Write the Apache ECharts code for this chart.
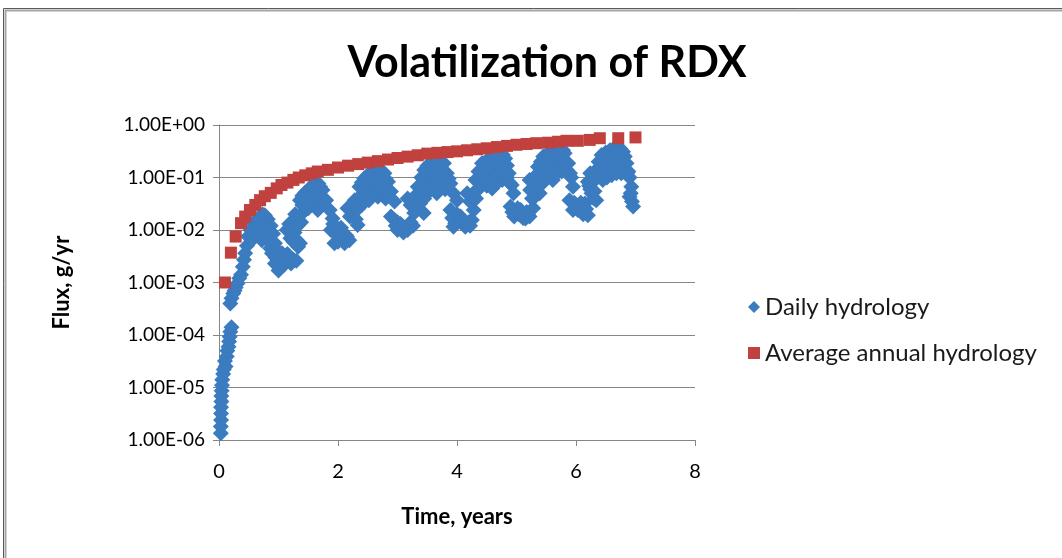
<!DOCTYPE html>
<html>
<head>
<meta charset="utf-8">
<script src="https://cdn.jsdelivr.net/npm/echarts@6/dist/echarts.min.js"></script>
<style>
  html, body { margin: 0; padding: 0; background: #fff; }
  #chart { width: 1062px; height: 558px; }
</style>
</head>
<body>
<div id="chart"></div>
<script>
// Daily hydrology: time (years) and flux (g/yr)
const dailyTime = [
  0.03, 0.03, 0.03, 0.035, 0.035, 0.035, 0.04, 0.04, 0.045, 0.05, 0.055, 0.07, 0.08, 0.11, 0.10, 0.13, 0.14, 0.16, 0.17, 0.18, 0.19, 0.21,
  0.19, 0.21, 0.24, 0.26, 0.28, 0.31, 0.34, 0.37, 0.40, 0.42, 0.44, 0.47, 0.49, 0.53, 0.55, 0.58, 0.62, 0.63, 0.68, 0.69, 0.72, 0.73, 0.77, 0.78, 0.82, 0.85, 0.87, 0.91, 0.94,
  0.86, 0.89, 0.93, 0.94, 0.97, 1.00, 1.00, 1.04, 1.08, 1.12, 1.17, 1.21, 1.25, 1.30,
  1.14, 1.18, 1.20, 1.25, 1.28, 1.30, 1.33, 1.36, 1.36, 1.38, 1.40, 1.42, 1.45, 1.50, 1.50, 1.55, 1.58, 1.61, 1.66, 1.67, 1.70, 1.72, 1.74, 1.80, 1.86, 1.91,
  1.88, 1.92, 1.94, 1.98, 2.02, 2.05, 2.08, 2.11, 2.15, 2.19,
  2.16, 2.20, 2.24, 2.28, 2.30, 2.33, 2.36, 2.40, 2.40, 2.44, 2.45, 2.50, 2.50, 2.52, 2.55, 2.58, 2.62, 2.62, 2.67, 2.70, 2.72, 2.74, 2.75, 2.78, 2.80, 2.84, 2.89, 2.95,
  2.89, 2.95, 3.00, 3.00, 3.05, 3.10, 3.17, 3.22, 3.26,
  3.17, 3.22, 3.28, 3.30, 3.34, 3.38, 3.40, 3.44, 3.45, 3.50, 3.50, 3.50, 3.55, 3.55, 3.62, 3.62, 3.66, 3.69, 3.72, 3.72, 3.74, 3.78, 3.80, 3.83, 3.86, 3.89, 3.94, 4.00,
  3.89, 3.94, 3.97, 4.00, 4.02, 4.06, 4.10, 4.14, 4.20, 4.25,
  4.17, 4.22, 4.28, 4.31, 4.36, 4.36, 4.42, 4.42, 4.50, 4.50, 4.50, 4.56, 4.59, 4.62, 4.65, 4.68, 4.72, 4.73, 4.76, 4.77, 4.81, 4.84, 4.87, 4.92, 4.95,
  4.90, 4.96, 5.00, 5.04, 5.07, 5.11, 5.15, 5.19, 5.22,
  5.22, 5.23, 5.28, 5.29, 5.31, 5.36, 5.39, 5.41, 5.45, 5.45, 5.50, 5.52, 5.52, 5.59, 5.60, 5.61, 5.66, 5.68, 5.70, 5.73, 5.76, 5.78, 5.81, 5.87, 5.92, 5.95,
  5.89, 5.95, 6.00, 6.06, 6.10, 6.12, 6.15, 6.20,
  6.20, 6.24, 6.24, 6.26, 6.28, 6.30, 6.34, 6.34, 6.38, 6.43, 6.45, 6.50, 6.50, 6.52, 6.57, 6.60, 6.62, 6.64, 6.68, 6.71, 6.74, 6.75, 6.76, 6.79, 6.82, 6.85, 6.88, 6.90, 6.90, 6.93, 6.94, 6.96,
  // points inside the thick parts of the band
  0.60, 0.66, 0.70, 0.75, 0.80, 0.84,
  0.95, 1.02, 1.06, 1.10, 1.15,
  1.22, 1.25, 1.27, 1.32, 1.40, 1.45, 1.47, 1.50, 1.55, 1.58, 1.60, 1.65, 1.70, 1.75,
  1.95, 2.00, 2.08, 2.13,
  2.25, 2.33, 2.38, 2.44, 2.48, 2.56, 2.56, 2.66, 2.66, 2.70, 2.76, 2.80,
  2.97, 3.03, 3.08, 3.13, 3.20,
  3.32, 3.36, 3.42, 3.45, 3.46, 3.58, 3.58, 3.66, 3.68, 3.76, 3.78, 3.84,
  3.92, 4.00, 4.08, 4.17, 4.22,
  4.25, 4.32, 4.34, 4.40, 4.46, 4.46, 4.55, 4.55, 4.64, 4.66, 4.70, 4.74, 4.80, 4.84, 4.88,
  4.93, 5.02, 5.09, 5.17,
  5.26, 5.33, 5.38, 5.42, 5.48, 5.50, 5.56, 5.56, 5.64, 5.64, 5.72, 5.74, 5.80, 5.84, 5.90,
  5.97, 6.03, 6.08, 6.17,
  6.22, 6.27, 6.31, 6.36, 6.40, 6.46, 6.48, 6.55, 6.55, 6.63, 6.66, 6.72, 6.72, 6.80, 6.86, 6.92
];
const dailyFlux = [
  9.8e-7, 1.35e-6, 1.8e-6, 2.4e-6, 3.2e-6, 4.2e-6, 5.4e-6, 6.9e-6, 8.7e-6, 1.1e-5, 1.4e-5, 1.8e-5, 2.2e-5, 2.5e-5, 3.2e-5, 3.9e-5, 5e-5, 6e-5, 7.5e-5, 9.3e-5, 1.15e-4, 1.4e-4,
  4e-4, 5e-4, 6.2e-4, 7e-4, 8e-4, 9.6e-4, 1.2e-3, 1.4e-3, 2e-3, 2.7e-3, 3.6e-3, 5e-3, 7.5e-3, 1e-2, 6.4e-3, 1.35e-2, 8e-3, 1.6e-2, 9e-3, 1.8e-2, 6.4e-3, 2e-2, 1.9e-2, 8e-3, 1.6e-2, 6e-3, 1.2e-2, 8.5e-3, 5.6e-3,
  4.5e-3, 3.6e-3, 3.8e-3, 2.3e-3, 2.2e-3, 1.7e-3, 3.9e-3, 2.4e-3, 2.7e-3, 3.1e-3, 2.9e-3, 2.3e-3, 2.7e-3, 2.6e-3,
  1e-2, 1.3e-2, 7e-3, 1.5e-2, 2e-2, 6.5e-3, 4.8e-3, 3.7e-2, 5.6e-3, 1.4e-2, 4.5e-2, 2.2e-2, 5.2e-2, 5.8e-2, 2.6e-2, 6.7e-2, 3.2e-2, 7.7e-2, 2.4e-2, 7.7e-2, 6.7e-2, 3e-2, 5.8e-2, 3.7e-2, 2.4e-2, 1.65e-2,
  1e-2, 1.3e-2, 5.6e-3, 8e-3, 7.5e-3, 1.1e-2, 6.5e-3, 5.6e-3, 7.5e-3, 6.4e-3,
  2.6e-2, 1.8e-2, 2.2e-2, 3.7e-2, 1.6e-2, 1.25e-2, 6.7e-2, 8e-2, 3e-2, 9.6e-2, 4e-2, 0.11, 7e-2, 3.7e-2, 0.124, 4.5e-2, 0.132, 8e-2, 4.3e-2, 0.139, 8e-2, 0.13, 5e-2, 0.12, 4e-2, 8.3e-2, 5.4e-2, 3.5e-2,
  1.8e-2, 1.55e-2, 1e-2, 1.4e-2, 1.3e-2, 9e-3, 1e-2, 1.4e-2, 1.2e-2,
  4e-2, 3e-2, 2.1e-2, 4.5e-2, 6.7e-2, 3.2e-2, 0.1, 2.1e-2, 0.139, 0.165, 9e-2, 5e-2, 0.186, 5.8e-2, 0.205, 0.1, 5e-2, 0.215, 0.11, 6.5e-2, 0.2, 0.186, 6e-2, 0.12, 0.095, 7.7e-2, 5e-2, 3.7e-2,
  2.4e-2, 1.15e-2, 1.35e-2, 2e-2, 1.6e-2, 1.8e-2, 1.3e-2, 1.15e-2, 1.4e-2, 1.55e-2,
  5e-2, 3.5e-2, 2.4e-2, 9e-2, 0.13, 6e-2, 0.186, 7.7e-2, 0.21, 0.12, 7e-2, 0.23, 6.2e-2, 0.13, 0.26, 8e-2, 0.15, 0.29, 9e-2, 0.27, 0.23, 0.17, 0.12, 7.2e-2, 5e-2,
  2.8e-2, 1.8e-2, 2.2e-2, 2e-2, 2.4e-2, 1.7e-2, 1.65e-2, 2e-2, 1.8e-2,
  9e-2, 5.8e-2, 2.6e-2, 7.7e-2, 4.3e-2, 0.16, 5e-2, 0.2, 0.25, 8e-2, 0.15, 0.28, 0.1, 0.31, 0.18, 9e-2, 0.34, 0.12, 0.2, 0.36, 0.13, 0.33, 0.29, 0.186, 0.10, 6.7e-2,
  3.7e-2, 2.4e-2, 3e-2, 2.8e-2, 2.3e-2, 2e-2, 3.2e-2, 1.9e-2,
  8.3e-2, 6e-2, 0.12, 5e-2, 0.1, 4e-2, 3.7e-2, 0.139, 0.2, 0.268, 9e-2, 0.3, 0.18, 0.1, 0.33, 0.11, 0.2, 0.36, 0.12, 0.386, 0.22, 0.35, 0.12, 0.31, 0.25, 0.186, 0.13, 0.10, 4.3e-2, 6.7e-2, 3.5e-2, 2.8e-2,
  // points inside the thick parts of the band
  1.1e-2, 1.3e-2, 1.2e-2, 1.3e-2, 1.1e-2, 9e-3,
  3e-3, 2.8e-3, 3.6e-3, 2.2e-3, 3.5e-3,
  1e-2, 6e-3, 9e-3, 1.2e-2, 3e-2, 3.5e-2, 4.5e-2, 4e-2, 4.5e-2, 6e-2, 5e-2, 4.5e-2, 4e-2, 4e-2,
  9e-3, 6e-3, 9e-3, 8e-3,
  3e-2, 2.5e-2, 4.5e-2, 6e-2, 5e-2, 6e-2, 9.5e-2, 6e-2, 0.105, 6.5e-2, 7e-2, 9.5e-2,
  1.2e-2, 1.1e-2, 1.2e-2, 1.1e-2, 1.2e-2,
  3e-2, 4.5e-2, 6e-2, 4e-2, 7e-2, 8e-2, 0.13, 0.15, 8e-2, 8e-2, 0.13, 7e-2,
  1.7e-2, 1.4e-2, 1.5e-2, 1.3e-2, 1.2e-2,
  4.5e-2, 4e-2, 6e-2, 0.11, 0.1, 0.16, 9e-2, 0.16, 0.1, 0.19, 0.11, 0.2, 0.13, 0.1, 8e-2,
  2.2e-2, 2.6e-2, 2e-2, 2.2e-2,
  4e-2, 0.11, 8e-2, 0.13, 0.12, 0.22, 0.13, 0.23, 0.15, 0.26, 0.15, 0.28, 0.18, 0.14, 0.12,
  3.3e-2, 2.4e-2, 3.3e-2, 2.5e-2,
  7e-2, 8e-2, 5.5e-2, 0.1, 0.14, 0.2, 0.13, 0.25, 0.15, 0.28, 0.16, 0.28, 0.16, 0.18, 0.12, 5e-2
];

// Average annual hydrology
const annualTime = [
  0.10, 0.20, 0.28, 0.37, 0.44, 0.52, 0.61, 0.69, 0.77, 0.87, 0.97, 1.05, 1.15, 1.25, 1.34, 1.45, 1.56, 1.66,
  1.83, 2.00, 2.17, 2.34, 2.50, 2.67, 2.84, 3.00, 3.17, 3.34, 3.50, 3.67, 3.84, 4.00, 4.17, 4.34, 4.50, 4.67, 4.84, 5.00, 5.17, 5.33,
  5.53, 5.70, 5.84, 6.03, 6.23, 6.40, 6.71, 7.00
];
const annualFlux = [
  0.001, 0.0037, 0.0075, 0.0135, 0.018, 0.024, 0.030, 0.037, 0.044, 0.051, 0.062, 0.072, 0.080, 0.090, 0.100, 0.110, 0.120, 0.130,
  0.140, 0.155, 0.168, 0.180, 0.192, 0.205, 0.220, 0.235, 0.250, 0.265, 0.285, 0.295, 0.305, 0.315, 0.330, 0.345, 0.360, 0.380, 0.400, 0.420, 0.435, 0.450,
  0.460, 0.480, 0.500, 0.500, 0.520, 0.560, 0.560, 0.580
];

const xTicks = [0, 2, 4, 6, 8];
const seriesNames = ['Daily hydrology', 'Average annual hydrology'];

function sciLabel(v) {
  const e = Math.round(Math.log10(v));
  const m = v / Math.pow(10, e);
  const sign = e < 0 ? '-' : '+';
  const ee = Math.abs(e) < 10 ? '0' + Math.abs(e) : '' + Math.abs(e);
  return m.toFixed(2) + 'E' + sign + ee;
}

const chart = echarts.init(document.getElementById('chart'));
const gridColor = '#868686';
const font = 'Lato, "Open Sans", sans-serif';

chart.setOption({
  animation: false,
  backgroundColor: '#fff',
  title: {
    text: 'Volatilization of RDX',
    left: 542,
    top: 37,
    textAlign: 'center',
    textStyle: { fontFamily: font, fontWeight: 'bold', fontSize: 43, color: '#000' }
  },
  graphic: [
    { type: 'rect', shape: { x: 3.5, y: 8.5, width: 1200, height: 700 }, style: { fill: 'none', stroke: '#5a5a5a', lineWidth: 1 } },
    { type: 'rect', shape: { x: 5.5, y: 10.5, width: 1200, height: 700 }, style: { fill: 'none', stroke: '#a6a6a6', lineWidth: 2 } }
  ],
  legend: {
    orient: 'vertical',
    left: 743,
    top: 290,
    itemGap: 22,
    itemWidth: 12,
    itemHeight: 12,
    data: seriesNames,
    textStyle: { fontFamily: font, fontSize: 24, color: '#1a1a1a' }
  },
  grid: { left: 219, right: 367, top: 125, bottom: 118 },
  xAxis: {
    type: 'value',
    min: xTicks[0],
    max: xTicks[xTicks.length - 1],
    interval: 2,
    name: 'Time, years',
    nameLocation: 'middle',
    nameGap: 66,
    nameTextStyle: { fontFamily: font, fontWeight: 'bold', fontSize: 22, color: '#000' },
    axisLine: { lineStyle: { color: gridColor, width: 1 } },
    axisTick: { show: true, length: 6, lineStyle: { color: gridColor } },
    axisLabel: { margin: 22, fontFamily: font, fontSize: 20, color: '#000' },
    splitLine: { show: false }
  },
  yAxis: {
    type: 'log',
    logBase: 10,
    min: 1e-6,
    max: 1,
    name: 'Flux, g/yr',
    nameLocation: 'middle',
    nameGap: 146,
    nameRotate: 90,
    nameTextStyle: { fontFamily: font, fontWeight: 'bold', fontSize: 22, color: '#000' },
    axisLine: { show: true, lineStyle: { color: gridColor, width: 1 } },
    axisTick: { show: true, length: 6, lineStyle: { color: gridColor } },
    axisLabel: { margin: 14, fontFamily: font, fontSize: 19, color: '#000', formatter: sciLabel },
    splitLine: { show: true, lineStyle: { color: gridColor, width: 1 } }
  },
  series: [
    {
      name: seriesNames[0],
      type: 'scatter',
      symbol: 'diamond',
      symbolSize: 16,
      itemStyle: { color: '#3b7bbf', opacity: 1 },
      data: dailyTime.map((t, i) => [t, dailyFlux[i]])
    },
    {
      name: seriesNames[1],
      type: 'scatter',
      symbol: 'rect',
      symbolSize: 12,
      itemStyle: { color: '#c0413d', opacity: 1 },
      data: annualTime.map((t, i) => [t, annualFlux[i]])
    }
  ]
});
</script>
</body>
</html>
